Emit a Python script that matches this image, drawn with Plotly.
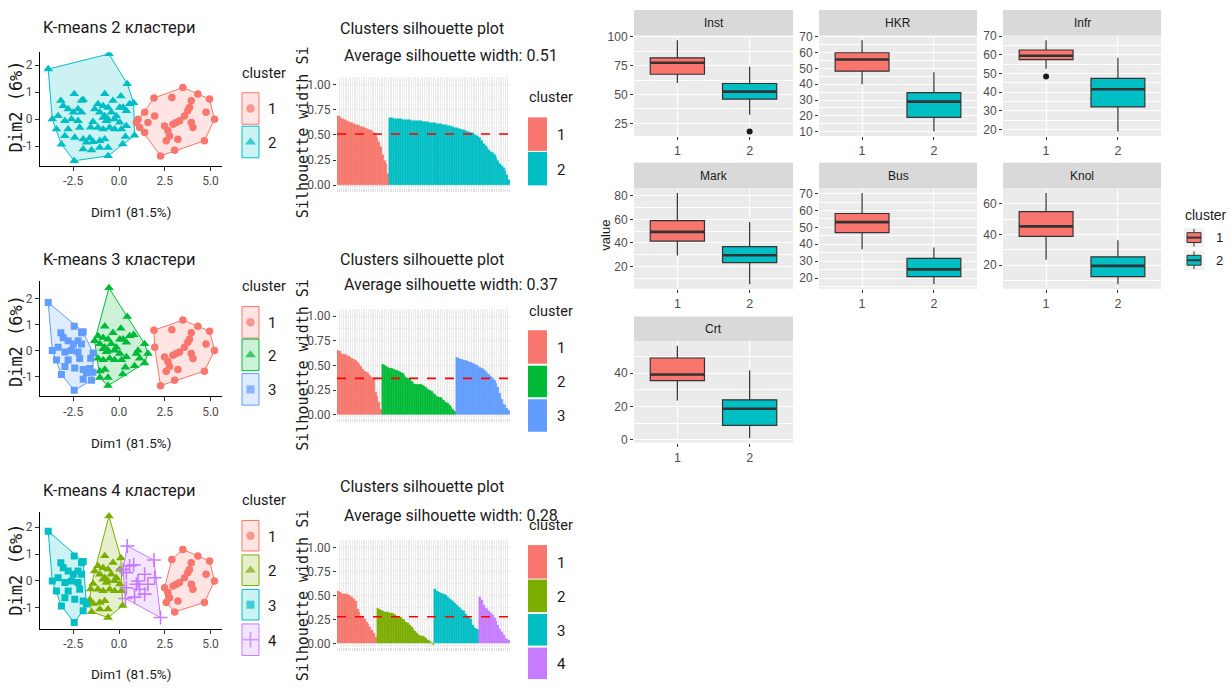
import plotly.graph_objects as go

W, H = 1231, 691

NARROW = "Roboto, Liberation Sans, Arial, sans-serif"
SANS = "Liberation Sans, Arial, sans-serif"
MONO = "DejaVu Sans Mono, monospace"
TICK_GREY = "#4D4D4D"
INK = "#1A1A1A"

RED = "#F8766D"
CYAN = "#00BFC4"
GREEN = "#00BA38"
BLUE = "#619CFF"
OLIVE = "#7CAE00"
VIOLET = "#C77CFF"

# ---------------------------------------------------------------- data
# PCA scores of the observations (Dim1, Dim2)
dim1 = [
    -3.87, -2.45, -2.05, -3.18, -3.05, -2.78, -2.24, -2.50, -2.05, -3.65,
    -2.96, -2.60, -2.24, -3.42, -2.78, -2.15, -2.96, -2.42, -1.96, -1.78,
    -3.15, -1.96, -2.45, -3.33, -1.96,
    -1.42, -1.42, -1.50, -1.55, -1.60,
    -0.55, -0.78, -1.15, -0.87, -0.60, -0.33, 0.10, 0.04, -1.33, -1.05,
    -0.78, -0.60, -0.69, -0.87, -0.42, -0.24, 0.04, -1.15, -0.87, -0.51,
    -0.24, 0.13, -1.05, -0.78, -1.05, -0.60, -0.60, 0.20, -0.15,
    0.45, 1.91, 0.22, 0.58, 0.40, 0.80, 1.40, 1.95, 1.04, 0.95,
    1.58, 0.40, 1.13, 0.35, 1.40, 0.85, 2.27,
    3.49, 2.89, 4.31, 4.95, 3.95, 3.85, 3.76, 5.22, 3.58, 3.31,
    3.13, 2.95, 3.95, 4.04, 2.49, 2.67, 2.76, 2.58, 3.22, 4.67,
    3.04, 4.76,
]
dim2 = [
    1.85, 0.93, 0.68, 0.68, 0.49, 0.37, 0.37, 0.25, 0.25, 0.00,
    -0.06, 0.00, -0.06, -0.37, -0.37, -0.31, -0.62, -0.68, -0.74, -0.86,
    -0.93, -1.11, -1.54, 0.12, 0.72,
    -0.10, -0.84, -1.15, -0.30, -0.70,
    2.41, 0.93, 0.56, 0.49, 0.43, 0.68, 0.85, 0.43, 0.37, 0.25,
    0.12, 0.00, -0.06, 0.06, 0.25, 0.00, -0.12, -0.31, -0.37, -0.31,
    -0.37, -0.37, -0.80, -0.74, -1.05, -1.05, -1.36, -0.92, 0.12,
    1.30, 0.78, 0.43, 0.56, 0.31, 0.60, 0.25, 0.12, 0.00, -0.12,
    -0.12, -0.25, -0.31, -0.65, -0.49, -0.60, -1.36,
    1.17, 0.80, 0.93, 0.74, 0.68, 0.43, 0.31, 0.00, 0.12, -0.06,
    -0.12, -0.19, -0.12, -0.31, -0.25, -0.43, -0.62, -0.80, -0.74, -0.80,
    -1.15, 0.25,
]
# k-means cluster memberships for k = 2, 3, 4
km2 = [
    2, 2, 2, 2, 2, 2, 2, 2, 2, 2, 2, 2, 2, 2, 2, 2, 2, 2, 2, 2, 2, 2, 2, 2, 2,
    2, 2, 2, 2, 2,
    2, 2, 2, 2, 2, 2, 2, 2, 2, 2, 2, 2, 2, 2, 2, 2, 2, 2, 2, 2, 2, 2, 2, 2, 2,
    2, 2, 2, 2,
    2, 1, 2, 2, 2, 2, 1, 1, 1, 1, 1, 2, 1, 2, 1, 2, 1,
    1, 1, 1, 1, 1, 1, 1, 1, 1, 1, 1, 1, 1, 1, 1, 1, 1, 1, 1, 1, 1, 1,
]
km3 = [
    3, 3, 3, 3, 3, 3, 3, 3, 3, 3, 3, 3, 3, 3, 3, 3, 3, 3, 3, 3, 3, 3, 3, 3, 3,
    3, 3, 3, 3, 3,
    2, 2, 2, 2, 2, 2, 2, 2, 2, 2, 2, 2, 2, 2, 2, 2, 2, 2, 2, 2, 2, 2, 2, 2, 2,
    2, 2, 2, 2,
    2, 1, 2, 2, 2, 2, 2, 1, 2, 2, 2, 2, 2, 2, 2, 2, 1,
    1, 1, 1, 1, 1, 1, 1, 1, 1, 1, 1, 1, 1, 1, 1, 1, 1, 1, 1, 1, 1, 1,
]
km4 = [
    3, 3, 3, 3, 3, 3, 3, 3, 3, 3, 3, 3, 3, 3, 3, 3, 3, 3, 3, 3, 3, 3, 3, 3, 3,
    2, 2, 2, 2, 2,
    2, 2, 2, 2, 2, 2, 2, 2, 2, 2, 2, 2, 2, 2, 2, 2, 2, 2, 2, 2, 2, 2, 2, 2, 2,
    2, 2, 2, 2,
    4, 4, 4, 4, 4, 4, 4, 4, 4, 4, 4, 4, 4, 4, 4, 4, 4,
    1, 1, 1, 1, 1, 1, 1, 1, 1, 1, 1, 1, 1, 1, 1, 1, 1, 1, 1, 1, 1, 1,
]

# silhouette widths, sorted within each cluster
sil2_c1 = [0.69, 0.68, 0.66, 0.66, 0.65, 0.64, 0.63, 0.62, 0.62, 0.61, 0.60, 0.60,
           0.59, 0.58, 0.58, 0.57, 0.56, 0.55, 0.55, 0.54, 0.52, 0.50, 0.47, 0.43,
           0.38, 0.30, 0.24, 0.21, 0.11]
sil2_c2 = [0.67, 0.67, 0.66, 0.66, 0.66, 0.66, 0.66, 0.65, 0.65, 0.65, 0.65, 0.65,
           0.64, 0.64, 0.64, 0.64, 0.64, 0.64, 0.63, 0.63, 0.63, 0.63, 0.62, 0.62,
           0.62, 0.62, 0.61, 0.61, 0.61, 0.60, 0.60, 0.60, 0.59, 0.59, 0.58, 0.58,
           0.57, 0.57, 0.56, 0.56, 0.55, 0.55, 0.54, 0.53, 0.53, 0.52, 0.52, 0.50,
           0.49, 0.48, 0.47, 0.44, 0.41, 0.39, 0.37, 0.35, 0.33, 0.32, 0.30, 0.27,
           0.24, 0.21, 0.19, 0.17, 0.14, 0.10, 0.05]
sil3_c1 = [0.65, 0.64, 0.62, 0.61, 0.61, 0.60, 0.59, 0.58, 0.57, 0.56, 0.55, 0.53,
           0.51, 0.49, 0.46, 0.44, 0.43, 0.42, 0.40, 0.38, 0.37, 0.23, 0.19, 0.12,
           0.05]
sil3_c2 = [0.51, 0.50, 0.49, 0.48, 0.47, 0.47, 0.46, 0.45, 0.45, 0.44, 0.43, 0.42,
           0.40, 0.38, 0.37, 0.36, 0.34, 0.32, 0.31, 0.31, 0.31, 0.31, 0.30, 0.29,
           0.28, 0.26, 0.25, 0.24, 0.22, 0.21, 0.19, 0.18, 0.17, 0.15, 0.14, 0.12,
           0.11, 0.09, 0.07, 0.05, 0.03]
sil3_c3 = [0.58, 0.57, 0.56, 0.56, 0.55, 0.55, 0.54, 0.53, 0.53, 0.52, 0.51, 0.50,
           0.49, 0.48, 0.47, 0.46, 0.44, 0.42, 0.41, 0.39, 0.37, 0.35, 0.32, 0.28,
           0.22, 0.15, 0.10, 0.09, 0.06, 0.04]
sil4_c1 = [0.55, 0.54, 0.53, 0.52, 0.51, 0.51, 0.50, 0.49, 0.48, 0.46, 0.44, 0.36,
           0.33, 0.29, 0.27, 0.25, 0.22, 0.20, 0.17, 0.14, 0.11, 0.07]
sil4_c2 = [0.37, 0.36, 0.35, 0.34, 0.33, 0.33, 0.33, 0.32, 0.32, 0.31, 0.30, 0.29,
           0.28, 0.27, 0.25, 0.24, 0.22, 0.21, 0.19, 0.17, 0.15, 0.13, 0.11, 0.09,
           0.08, 0.08, 0.07, 0.06, 0.04, 0.02, 0.00, -0.02]
sil4_c3 = [0.57, 0.55, 0.54, 0.53, 0.52, 0.51, 0.50, 0.48, 0.46, 0.45, 0.44, 0.42,
           0.40, 0.38, 0.37, 0.35, 0.34, 0.31, 0.28, 0.27, 0.25, 0.19, 0.16, 0.15,
           0.14]
sil4_c4 = [0.48, 0.45, 0.40, 0.37, 0.36, 0.34, 0.32, 0.30, 0.26, 0.23, 0.19, 0.15,
           0.12, 0.09, 0.06, 0.05, 0.04]
avg_silhouette = [0.51, 0.37, 0.28]

# per-variable box statistics for the two-cluster solution
variables = ["Inst", "HKR", "Infr", "Mark", "Bus", "Knol", "Crt"]
c1_low = [60.0, 40.0, 52.6, 29.4, 37.1, 23.5, 23.6]
c1_q1 = [67.5, 48.3, 57.4, 41.6, 46.9, 38.8, 35.6]
c1_med = [77.5, 55.7, 59.5, 49.4, 53.1, 45.3, 39.2]
c1_q3 = [81.7, 60.0, 62.6, 58.9, 58.2, 54.9, 49.2]
c1_high = [97.0, 68.0, 67.9, 82.5, 70.4, 67.2, 56.6]
c2_low = [32.5, 10.0, 18.9, 4.9, 16.3, 7.5, 1.0]
c2_q1 = [46.0, 19.0, 32.1, 23.2, 20.8, 12.5, 8.6]
c2_med = [52.5, 29.0, 41.6, 29.6, 25.1, 19.5, 18.6]
c2_q3 = [59.5, 34.7, 47.4, 36.9, 31.6, 25.4, 24.0]
c2_high = [74.0, 47.6, 58.4, 57.8, 38.1, 36.3, 41.6]
outlier_var = ["Inst", "Infr"]
outlier_cluster = [2, 1]
outlier_value = [18.0, 48.4]


# ---------------------------------------------------------------- helpers
def fx(px):
    return px / W


def fy(py):
    return 1 - py / H


def rgba(hex_color, a):
    h = hex_color.lstrip("#")
    r, g, b = int(h[0:2], 16), int(h[2:4], 16), int(h[4:6], 16)
    return f"rgba({r},{g},{b},{a})"


def convex_hull(points):
    pts = sorted(set(points))
    if len(pts) < 3:
        return pts

    def cross(o, a, b):
        return (a[0] - o[0]) * (b[1] - o[1]) - (a[1] - o[1]) * (b[0] - o[0])

    lower, upper = [], []
    for p in pts:
        while len(lower) >= 2 and cross(lower[-2], lower[-1], p) <= 0:
            lower.pop()
        lower.append(p)
    for p in reversed(pts):
        while len(upper) >= 2 and cross(upper[-2], upper[-1], p) <= 0:
            upper.pop()
        upper.append(p)
    return lower[:-1] + upper[:-1]


fig = go.Figure()
layout = {}
shapes = []
annotations = []


def text(x, y, s, size, family=NARROW, color=INK, xanchor="left", angle=0):
    annotations.append(dict(
        x=fx(x), y=fy(y), xref="paper", yref="paper", text=s, showarrow=False,
        xanchor=xanchor, yanchor="middle", textangle=angle,
        font=dict(family=family, size=size, color=color)))


def rect(x0, y0, x1, y1, fill, line=None, lw=0, layer="above"):
    shapes.append(dict(
        type="rect", xref="paper", yref="paper", x0=fx(x0), x1=fx(x1),
        y0=fy(y1), y1=fy(y0), fillcolor=fill,
        line=dict(color=line or fill, width=lw), layer=layer))


def seg(x0, y0, x1, y1, color, width):
    shapes.append(dict(
        type="line", xref="paper", yref="paper", x0=fx(x0), x1=fx(x1),
        y0=fy(y0), y1=fy(y1), line=dict(color=color, width=width)))


def axis_name(i):
    return ("x", "y") if i == 1 else (f"x{i}", f"y{i}")


def layout_key(i):
    return ("xaxis", "yaxis") if i == 1 else (f"xaxis{i}", f"yaxis{i}")


OVERLAY = 14
key_marks = []  # legend glyph markers drawn on the full-page overlay axis

# ---------------------------------------------------------------- k-means cluster plots
SYMBOLS = ["circle", "triangle-up", "square", "cross-thin"]
SYM_SIZE = [7.5, 8.5, 7, 10]

cluster_panels = [
    dict(labels=km2, colors=[RED, CYAN], top=47, bottom=162, yr=[-1.72, 2.47],
         title="K-means 2 кластери", title_y=22, xt_y=209, d2_y=102, leg_y=68,
         keys=[(88, 120), (122, 154)]),
    dict(labels=km3, colors=[RED, GREEN, BLUE], top=279, bottom=396, yr=[-1.77, 2.68],
         title="K-means 3 кластери", title_y=257, xt_y=443, d2_y=340, leg_y=285,
         keys=[(305, 337), (338, 370), (373, 405)]),
    dict(labels=km4, colors=[RED, OLIVE, CYAN, VIOLET], top=513, bottom=632, yr=[-1.78, 2.58],
         title="K-means 4 кластери", title_y=492, xt_y=678, d2_y=572, leg_y=502,
         keys=[(522, 553), (557, 588), (592, 623), (627, 659)]),
]

for i, p in enumerate(cluster_panels, start=1):
    xa, ya = axis_name(i)
    xk, yk = layout_key(i)
    k = len(p["colors"])
    groups = []
    for c in range(1, k + 1):
        groups.append([(a, b) for a, b, l in zip(dim1, dim2, p["labels"]) if l == c])
    for c, pts in enumerate(groups):
        hv = convex_hull(pts)
        hv = hv + hv[:1]
        fig.add_trace(go.Scatter(
            x=[q[0] for q in hv], y=[q[1] for q in hv], mode="lines", fill="toself",
            fillcolor=rgba(p["colors"][c], 0.2), line=dict(color=p["colors"][c], width=1),
            xaxis=xa, yaxis=ya, hoverinfo="skip", showlegend=False))
    for c, pts in enumerate(groups):
        col = p["colors"][c]
        fig.add_trace(go.Scatter(
            x=[q[0] for q in pts], y=[q[1] for q in pts], mode="markers",
            marker=dict(symbol=SYMBOLS[c], size=SYM_SIZE[c], color=col,
                        line=dict(color=col, width=1.6 if c == 3 else 0)),
            xaxis=xa, yaxis=ya, showlegend=False, hoverinfo="skip"))
    common = dict(showline=True, linecolor="black", linewidth=1, ticks="outside",
                  ticklen=4, tickcolor="#333333", showgrid=False, zeroline=False,
                  tickfont=dict(family=NARROW, size=12, color=TICK_GREY))
    layout[xk] = dict(domain=[fx(40), fx(222)], range=[-4.32, 5.63], anchor=ya,
                      tickvals=[-2.5, 0, 2.5, 5], ticktext=["-2.5", "0.0", "2.5", "5.0"],
                      **common)
    layout[yk] = dict(domain=[fy(p["bottom"]), fy(p["top"])], range=p["yr"], anchor=xa,
                      tickvals=[-1, 0, 1, 2], ticktext=["-1", "0", "1", "2"], **common)
    text(41, p["title_y"], p["title"], 16.5)
    text(131, p["xt_y"], "Dim1 (81.5%)", 13.5, xanchor="center")
    text(16, p["d2_y"], "Dim2 (6%)", 17, family=MONO, xanchor="center", angle=-90)
    text(240, p["leg_y"], "cluster", 14.5)
    for c, (k0, k1) in enumerate(p["keys"]):
        col = p["colors"][c]
        rect(242, k0, 259, k1, rgba(col, 0.2), line=col, lw=1, layer="below")
        key_marks.append((250.5, (k0 + k1) / 2, SYMBOLS[c], SYM_SIZE[c] + 1, col))
        text(266, (k0 + k1) / 2 + 1, str(c + 1), 15)

# ---------------------------------------------------------------- silhouette plots
sil_panels = [
    dict(groups=[sil2_c1, sil2_c2], colors=[RED, CYAN], top=72, bottom=185,
         t1=23, t2=50, yt=128, leg_y=93, keys=[(113, 147), (148, 182)]),
    dict(groups=[sil3_c1, sil3_c2, sil3_c3], colors=[RED, GREEN, BLUE], top=307, bottom=418,
         t1=257, t2=283, yt=364, leg_y=310, keys=[(329, 363), (365, 397), (399, 432)]),
    dict(groups=[sil4_c1, sil4_c2, sil4_c3, sil4_c4], colors=[RED, OLIVE, CYAN, VIOLET],
         top=542, bottom=650, t1=488, t2=517, yt=598, leg_y=527,
         keys=[(547, 581), (582, 615), (617, 649), (651, 683)]),
]

for j, p in enumerate(sil_panels):
    idx = 4 + j
    xa, ya = axis_name(idx)
    xk, yk = layout_key(idx)
    start = 1
    for vals, col in zip(p["groups"], p["colors"]):
        pos = list(range(start, start + len(vals)))
        start += len(vals)
        fig.add_trace(go.Bar(
            x=pos, y=vals, width=1, marker=dict(color=col, line=dict(color=col, width=0.4)),
            xaxis=xa, yaxis=ya, showlegend=False, hoverinfo="skip"))
    n = start - 1
    avg = avg_silhouette[j]
    fig.add_trace(go.Scatter(
        x=[0.5, n + 0.5], y=[avg, avg], mode="lines",
        line=dict(color="#FF0000", width=1.6, dash="dash"),
        xaxis=xa, yaxis=ya, showlegend=False, hoverinfo="skip"))
    layout[xk] = dict(domain=[fx(337), fx(510)], range=[0.5, n + 0.5], anchor=ya,
                      tick0=1, dtick=1, showticklabels=False, ticks="outside", ticklen=3,
                      tickcolor="#E0E0E0", showgrid=True, gridcolor="#EBEBEB", gridwidth=0.8,
                      zeroline=False, showline=False)
    layout[yk] = dict(domain=[fy(p["bottom"]), fy(p["top"])], range=[-0.032, 1.078],
                      anchor=xa, tickvals=[0, 0.25, 0.5, 0.75, 1.0],
                      ticktext=["0.00", "0.25", "0.50", "0.75", "1.00"],
                      ticks="outside", ticklen=3, tickcolor="#333333",
                      showgrid=True, gridcolor="#EBEBEB", gridwidth=1,
                      minor=dict(dtick=0.125, tick0=0, showgrid=True, gridcolor="#F0F0F0",
                                 gridwidth=0.6, ticklen=0),
                      zeroline=False, showline=False,
                      tickfont=dict(family=NARROW, size=12, color=TICK_GREY))
    text(338, p["t1"], "Clusters silhouette plot", 16)
    text(342, p["t2"], f"Average silhouette width: {avg:.2f}", 16)
    text(303, p["yt"], "Silhouette width Si", 15, family=MONO, xanchor="center", angle=-90)
    text(527, p["leg_y"], "cluster", 14.5)
    for c, (k0, k1) in enumerate(p["keys"]):
        rect(528, k0, 547, k1, p["colors"][c])
        text(555, (k0 + k1) / 2 + 1, str(c + 1), 15)

# ---------------------------------------------------------------- box plots by variable
box_cols = [(634, 793), (819, 977), (1003, 1161)]
box_rows = [(4, 30, 132), (159, 185, 287), (315, 340, 443)]
box_cell = [(0, 0), (0, 1), (0, 2), (1, 0), (1, 1), (1, 2), (2, 0)]
box_dtick = [25, 10, 10, 20, 10, 20, 20]
BOX_LINE = "#333333"

for v, name in enumerate(variables):
    idx = 7 + v
    xa, ya = axis_name(idx)
    xk, yk = layout_key(idx)
    r, c = box_cell[v]
    x0, x1 = box_cols[c]
    s0, p0, p1 = box_rows[r]
    stats = [
        (1, c1_low[v], c1_q1[v], c1_med[v], c1_q3[v], c1_high[v], RED),
        (2, c2_low[v], c2_q1[v], c2_med[v], c2_q3[v], c2_high[v], CYAN),
    ]
    for pos, lo, q1, med, q3, hi, col in stats:
        fig.add_trace(go.Box(
            x=[pos], q1=[q1], median=[med], q3=[q3], lowerfence=[lo], upperfence=[hi],
            width=0.75, whiskerwidth=0, fillcolor=col, line=dict(color=BOX_LINE, width=1.2),
            boxpoints=False, xaxis=xa, yaxis=ya, showlegend=False, hoverinfo="skip"))
        fig.add_trace(go.Scatter(
            x=[pos - 0.375, pos + 0.375], y=[med, med], mode="lines",
            line=dict(color=BOX_LINE, width=2.6), xaxis=xa, yaxis=ya,
            showlegend=False, hoverinfo="skip"))
    ov = [(cl, val) for vn, cl, val in zip(outlier_var, outlier_cluster, outlier_value) if vn == name]
    if ov:
        fig.add_trace(go.Scatter(
            x=[o[0] for o in ov], y=[o[1] for o in ov], mode="markers",
            marker=dict(color=INK, size=6), xaxis=xa, yaxis=ya,
            showlegend=False, hoverinfo="skip"))
    lo_all = min([c1_low[v], c2_low[v]] + [o[1] for o in ov])
    hi_all = max([c1_high[v], c2_high[v]] + [o[1] for o in ov])
    pad = 0.05 * (hi_all - lo_all)
    rect(x0, p0, x1, p1, "#EBEBEB", layer="below")
    rect(x0, s0, x1, p0, "#D9D9D9")
    text((x0 + x1) / 2, (s0 + p0) / 2, name, 12, family=SANS, xanchor="center")
    layout[xk] = dict(domain=[fx(x0), fx(x1)], range=[0.4, 2.6], anchor=ya,
                      tickvals=[1, 2], ticktext=["1", "2"], ticks="outside", ticklen=3,
                      tickcolor=BOX_LINE, showgrid=True, gridcolor="white", gridwidth=1.1,
                      zeroline=False, showline=False,
                      tickfont=dict(family=SANS, size=12.5, color=TICK_GREY))
    layout[yk] = dict(domain=[fy(p1), fy(p0)], range=[lo_all - pad, hi_all + pad], anchor=xa,
                      tick0=0, dtick=box_dtick[v], ticks="outside", ticklen=3,
                      tickcolor=BOX_LINE, showgrid=True, gridcolor="white", gridwidth=1.1,
                      minor=dict(tick0=0, dtick=box_dtick[v] / 2, showgrid=True,
                                 gridcolor="white", gridwidth=0.5, ticklen=0),
                      zeroline=False, showline=False,
                      tickfont=dict(family=SANS, size=12, color=TICK_GREY))

text(606, 233, "value", 13, family=SANS, xanchor="center", angle=-90)
text(1183, 212, "cluster", 14, family=SANS)
for c, (k0, k1), col in [(1, (225, 245), RED), (2, (248, 268), CYAN)]:
    rect(1184, k0, 1204, k1, "#F2F2F2")
    seg(1194, k0 + 1, 1194, k1 - 1, BOX_LINE, 1)
    rect(1187, k0 + 5, 1201, k1 - 5, col, line=BOX_LINE, lw=1)
    seg(1187, (k0 + k1) / 2, 1201, (k0 + k1) / 2, BOX_LINE, 2)
    text(1214, (k0 + k1) / 2, str(c), 13, family=SANS)

# ---------------------------------------------------------------- legend glyph overlay
fig.add_trace(go.Scatter(
    x=[m[0] for m in key_marks], y=[m[1] for m in key_marks], mode="markers",
    marker=dict(symbol=[m[2] for m in key_marks], size=[m[3] for m in key_marks],
                color=[m[4] for m in key_marks],
                line=dict(color=[m[4] for m in key_marks],
                          width=[1.8 if m[2] == "cross-thin" else 0 for m in key_marks])),
    xaxis=f"x{OVERLAY}", yaxis=f"y{OVERLAY}", showlegend=False, hoverinfo="skip"))
layout[f"xaxis{OVERLAY}"] = dict(domain=[0, 1], range=[0, W], visible=False,
                                 anchor=f"y{OVERLAY}", fixedrange=True)
layout[f"yaxis{OVERLAY}"] = dict(domain=[0, 1], range=[H, 0], visible=False,
                                 anchor=f"x{OVERLAY}", fixedrange=True)

fig.update_layout(
    width=W, height=H, autosize=False,
    margin=dict(l=0, r=0, t=0, b=0),
    paper_bgcolor="white", plot_bgcolor="rgba(0,0,0,0)",
    showlegend=False, bargap=0,
    shapes=shapes, annotations=annotations,
    **layout,
)

fig.write_html("out.html")
